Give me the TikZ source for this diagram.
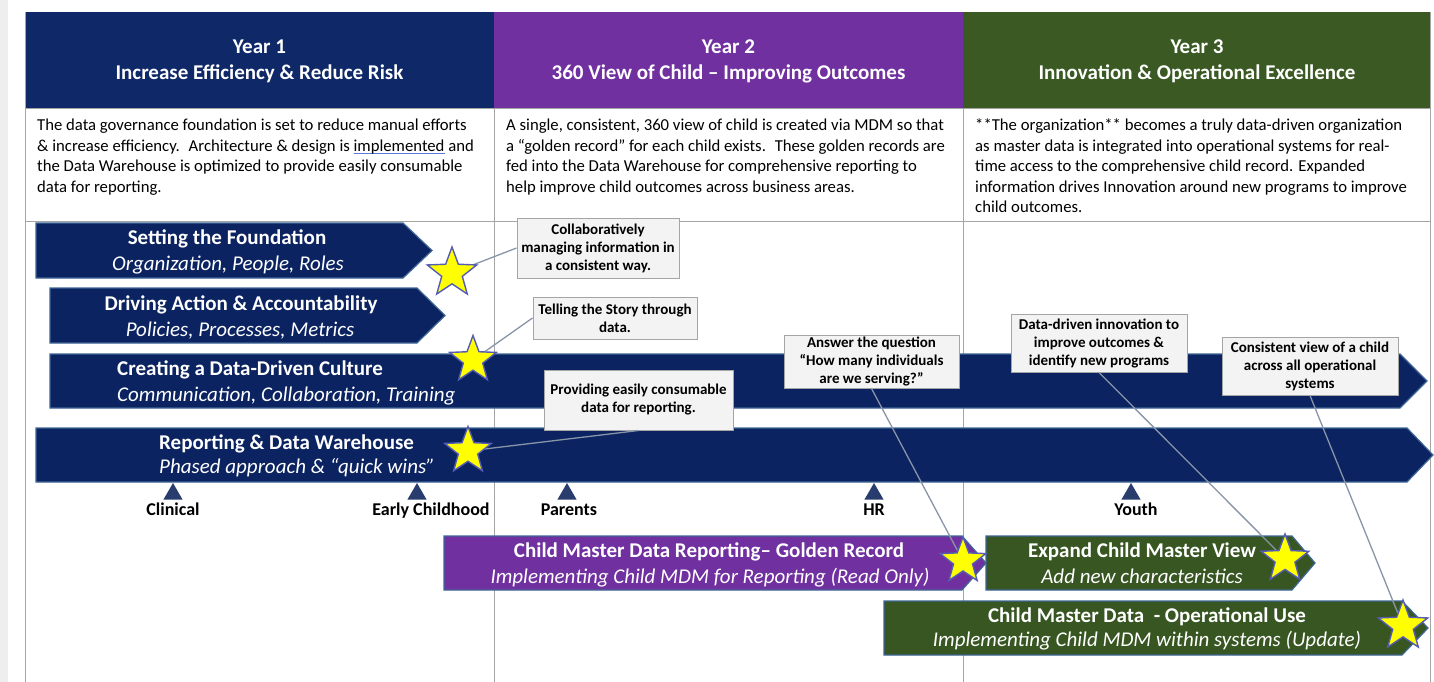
\documentclass[tikz,border=0pt]{standalone}
\usepackage{fontspec}
\setmainfont{Carlito}
\usetikzlibrary{shapes.geometric}
\definecolor{navy}{RGB}{14,40,104}
\definecolor{barnavy}{RGB}{11,35,97}
\definecolor{ppl}{RGB}{113,48,160}
\definecolor{grnhdr}{RGB}{59,90,35}
\definecolor{grn}{RGB}{56,86,34}
\definecolor{barborder}{RGB}{62,102,150}
\definecolor{gridgray}{RGB}{165,165,165}
\definecolor{calloutfill}{RGB}{243,243,243}
\definecolor{calloutdraw}{RGB}{165,165,165}
\definecolor{linkc}{RGB}{136,148,168}
\definecolor{starborder}{RGB}{84,92,182}
\definecolor{starfill}{RGB}{255,255,0}
\definecolor{tric}{RGB}{40,60,110}
\definecolor{sidegray}{RGB}{238,238,238}
\definecolor{spellblue}{RGB}{90,120,220}
\newcommand\spellul[1]{\setbox0\hbox{#1}\rlap{\color{spellblue}\rule[-2.8pt]{\wd0}{0.9pt}}#1}
\begin{document}
\begin{tikzpicture}[x=1pt,y=-1pt,
  hdr/.style={text=white, font=\fontsize{21}{26}\selectfont\bfseries, anchor=base, inner sep=0},
  para/.style={anchor=north west, inner sep=0, align=left, font=\fontsize{16.7}{20.5}\selectfont},
  bartitle/.style={text=white, font=\fontsize{21}{26}\selectfont\bfseries, inner sep=0},
  barsub/.style={text=white, font=\fontsize{21}{26}\selectfont\itshape, inner sep=0},
  bluebar/.style={fill=barnavy, draw=barborder, line width=1.2},
  purplebar/.style={fill=ppl, draw=barborder, line width=1.2},
  greenbar/.style={fill=grn, draw=barborder, line width=1.2},
  grid/.style={draw=gridgray, line width=0.9},
  callout/.style={fill=calloutfill, draw=calloutdraw, line width=1, align=center, inner sep=0,
    font=\fontsize{15}{18}\selectfont\bfseries},
  link/.style={draw=linkc, line width=1.3},
  starmark/.style={star, star points=5, star point ratio=2.4, fill=starfill, draw=starborder,
    line width=1.4, inner sep=0},
  tri/.style={regular polygon, regular polygon sides=3, minimum size=22, inner sep=0, fill=tric},
  mlabel/.style={font=\fontsize{18}{22}\selectfont\bfseries, anchor=base, inner sep=0},
]
\useasboundingbox (0,0) rectangle (1434,682);
\fill[white] (0,0) rectangle (1434,682);
\fill[sidegray] (0,0) rectangle (8,682);

% header cells
\fill[navy] (25,12) rectangle (494,108);
\fill[ppl] (494,12) rectangle (963,108);
\fill[grnhdr] (963,12) rectangle (1430,108);

% grid lines
\draw[grid] (25,12) -- (25,682);
\draw[grid] (1430,12) -- (1430,682);
\draw[grid] (494,108) -- (494,682);
\draw[grid] (963,108) -- (963,682);
\draw[grid] (25,108) -- (1430,108);
\draw[grid] (25,221) -- (1430,221);

% header texts
\node[hdr] (h1a) at (259.5,54) {Year 1};
\node[hdr] (h1b) at (259.5,80) {Increase Efficiency \& Reduce Risk};
\node[hdr] (h2a) at (728.5,54) {Year 2};
\node[hdr] (h2b) at (728.5,80) {360 View of Child – Improving Outcomes};
\node[hdr] (h3a) at (1197,54) {Year 3};
\node[hdr] (h3b) at (1197,80) {Innovation \& Operational Excellence};

% paragraphs
\node[para] (p1) at (37,116.2) {\strut The data governance foundation is set to reduce manual efforts\\
\& increase efficiency.~ Architecture \& design is \spellul{implemented} and\\
the Data Warehouse is optimized to provide easily consumable\\
data for reporting.};
\node[para] (p2) at (506,116.2) {\strut A single, consistent, 360 view of child is created via MDM so that\\
a “golden record” for each child exists.~ These golden records are\\
fed into the Data Warehouse for comprehensive reporting to\\
help improve child outcomes across business areas.};
\node[para] (p3) at (975,116.2) {\strut **The organization** becomes a truly data-driven organization\\
as master data is integrated into operational systems for real-\\
time access to the comprehensive child record. Expanded\\
information drives Innovation around new programs to improve\\
child outcomes.};

% bars
\path[bluebar] (36,223) -- (403,223) -- (432,250.5) -- (403,278) -- (36,278) -- cycle;
\node[bartitle, anchor=base] (b1t) at (227,244.5) {Setting the Foundation};
\node[barsub, anchor=base] (b1s) at (228,270.5) {Organization, People, Roles};

\path[bluebar] (50,288) -- (417,288) -- (445,315.5) -- (417,343) -- (50,343) -- cycle;
\node[bartitle, anchor=base] (b2t) at (241,310.5) {Driving Action \& Accountability};
\node[barsub, anchor=base] (b2s) at (240,336.5) {Policies, Processes, Metrics};

\path[bluebar] (50,354) -- (1400,354) -- (1427,381) -- (1400,408) -- (50,408) -- cycle;
\node[bartitle, anchor=base west] (b3t) at (117,375.5) {Creating a Data-Driven Culture};
\node[barsub, anchor=base west] (b3s) at (117,401.5) {Communication, Collaboration, Training};

\path[bluebar] (36,428) -- (1407,428) -- (1433,455) -- (1407,482) -- (36,482) -- cycle;
\node[bartitle, anchor=base west] (b4t) at (159,449.5) {Reporting \& Data Warehouse};
\node[barsub, anchor=base west] (b4s) at (159,473.5) {Phased approach \& “quick wins”};

\path[purplebar] (444,536) -- (962,536) -- (986,563) -- (962,590) -- (444,590) -- cycle;
\node[bartitle, anchor=base] (b5t) at (709,557.5) {Child Master Data Reporting– Golden Record};
\node[barsub, anchor=base] (b5s) at (710,583.5) {Implementing Child MDM for Reporting (Read Only)};

\path[greenbar] (986,536) -- (1292,536) -- (1315,563) -- (1292,590) -- (986,590) -- cycle;
\node[bartitle, anchor=base] (b6t) at (1142,557.5) {Expand Child Master View};
\node[barsub, anchor=base] (b6s) at (1142,583.5) {Add new characteristics};

\path[greenbar] (884,601) -- (1402,601) -- (1428,628) -- (1402,655) -- (884,655) -- cycle;
\node[bartitle, anchor=base] (b7t) at (1147,622.5) {Child Master Data~ - Operational Use};
\node[barsub, anchor=base] (b7s) at (1147,646.5) {Implementing Child MDM within systems (Update)};

% milestones
\node[tri] (m1) at (173,494) {};
\node[tri] (m2) at (417,494) {};
\node[tri] (m3) at (567,494) {};
\node[tri] (m4) at (874,494) {};
\node[tri] (m5) at (1131,494) {};
\node[mlabel] (l1) at (173,515) {Clinical};
\node[mlabel] (l2) at (431,515) {Early Childhood};
\node[mlabel] (l3) at (569,515) {Parents};
\node[mlabel] (l4) at (874,515) {HR};
\node[mlabel] (l5) at (1136,515) {Youth};

% callouts
\node[callout, minimum width=162, minimum height=60] (c1) at (598,248) {Collaboratively\\managing information in\\a consistent way.};
\node[callout, minimum width=164, minimum height=42] (c2) at (615,318) {Telling the Story through\\data.};
\node[callout, minimum width=189, minimum height=60] (c3) at (638.5,400) {Providing easily consumable\\data for reporting.};
\node[callout, minimum width=175, minimum height=53] (c4) at (871.5,361.5) {Answer the question\\“How many individuals\\are we serving?”};
\node[callout, minimum width=176, minimum height=58] (c5) at (1099,343) {Data-driven innovation to\\improve outcomes \&\\identify new programs};
\node[callout, minimum width=176, minimum height=58] (c6) at (1310,366) {Consistent view of a child\\across all operational\\systems};

% stars (positions)
\coordinate (s1p) at (452,273);
\coordinate (s2p) at (473,360);
\coordinate (s3p) at (468,451);
\coordinate (s4p) at (963,561);
\coordinate (s5p) at (1285,559);
\coordinate (s6p) at (1403,626);

% connectors
\draw[link] (s1p) -- (c1.west);
\draw[link] (s2p) -- (c2.west);
\draw[link] (s3p) -- (c3.south);
\draw[link] (c4.south) -- (s4p);
\draw[link] (c5.south) -- (s5p);
\draw[link] (c6.south) -- (s6p);

\node[starmark, minimum size=52] (s1) at (s1p) {};
\node[starmark, minimum size=49] (s2) at (s2p) {};
\node[starmark, minimum size=49] (s3) at (s3p) {};
\node[starmark, minimum size=48] (s4) at (s4p) {};
\node[starmark, minimum size=50] (s5) at (s5p) {};
\node[starmark, minimum size=52] (s6) at (s6p) {};
\end{tikzpicture}
\end{document}
